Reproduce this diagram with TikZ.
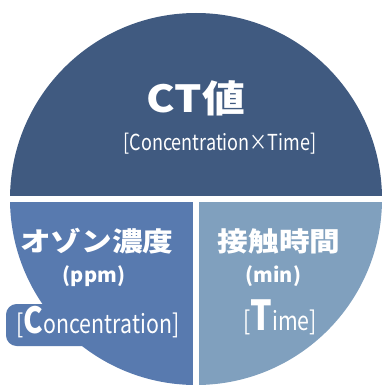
\documentclass[tikz,border=0pt]{standalone}
\usepackage{fontspec}
\setmainfont{Noto Sans CJK JP}
\newfontfamily\narrowfont{Noto Sans CJK JP}[FakeStretch=0.82]
\newfontfamily\widefont{Noto Sans CJK JP}[FakeStretch=1.15]
\definecolor{CTdark}{HTML}{405A80}
\definecolor{Ozone}{HTML}{587AAF}
\definecolor{Contact}{HTML}{80A0BE}

\begin{document}
\begin{tikzpicture}[x=0.75pt, y=-0.75pt,
  txt/.style={text=white, inner sep=0pt, anchor=base}]
 \useasboundingbox (0,0) rectangle (382,385);

  %%%%%%%%%% Points pour travailler %%%%%%%%%%
 \coordinate (O) at (196,199);

 %%%%%%%%%% Disc, three parts %%%%%%%%%%
 \begin{scope}
  \clip (O) circle (186);
  \fill [CTdark] (0,0) rectangle (382,195.5);
  \fill [Ozone] (0,202) rectangle (193.3,385);
  \fill [Contact] (199.3,202) rectangle (382,385);
 \end{scope}
 % halo behind the C line
 \fill [Ozone, rounded corners=8] (6,304) rectangle (120,346);

 %%%%%%%%%%% CT value %%%%%%%%%%%
 \node[txt, font=\widefont\bfseries\fontsize{28}{28}\selectfont] (ctval) at (196,112) {CT値};
 \node[txt, font=\narrowfont\fontsize{16.5}{16.5}\selectfont] (ctsub) at (220,150) {[Concentration×Time]};

 %%%%%%%%%%% Concentration %%%%%%%%%%%
 \node[txt, font=\widefont\bfseries\fontsize{20}{20}\selectfont] (ozone) at (97,251) {オゾン濃度};
 \node[txt, font=\bfseries\fontsize{15}{15}\selectfont] (ppm) at (94,282) {(ppm)};
 \node[txt, font=\narrowfont\fontsize{19.5}{19.5}\selectfont] (conc) at (98,333)
   {[{\bfseries\fontsize{27}{27}\selectfont C}oncentration]};

 %%%%%%%%%%% Time %%%%%%%%%%%
 \node[txt, font=\widefont\bfseries\fontsize{20}{20}\selectfont] (contact) at (279,251) {接触時間};
 \node[txt, font=\bfseries\fontsize{15}{15}\selectfont] (min) at (273.5,282) {(min)};
 \node[txt, font=\narrowfont\fontsize{19.5}{19.5}\selectfont] (time) at (280,330)
   {[{\bfseries\fontsize{31}{31}\selectfont T}ime]};

\end{tikzpicture}
\end{document}
